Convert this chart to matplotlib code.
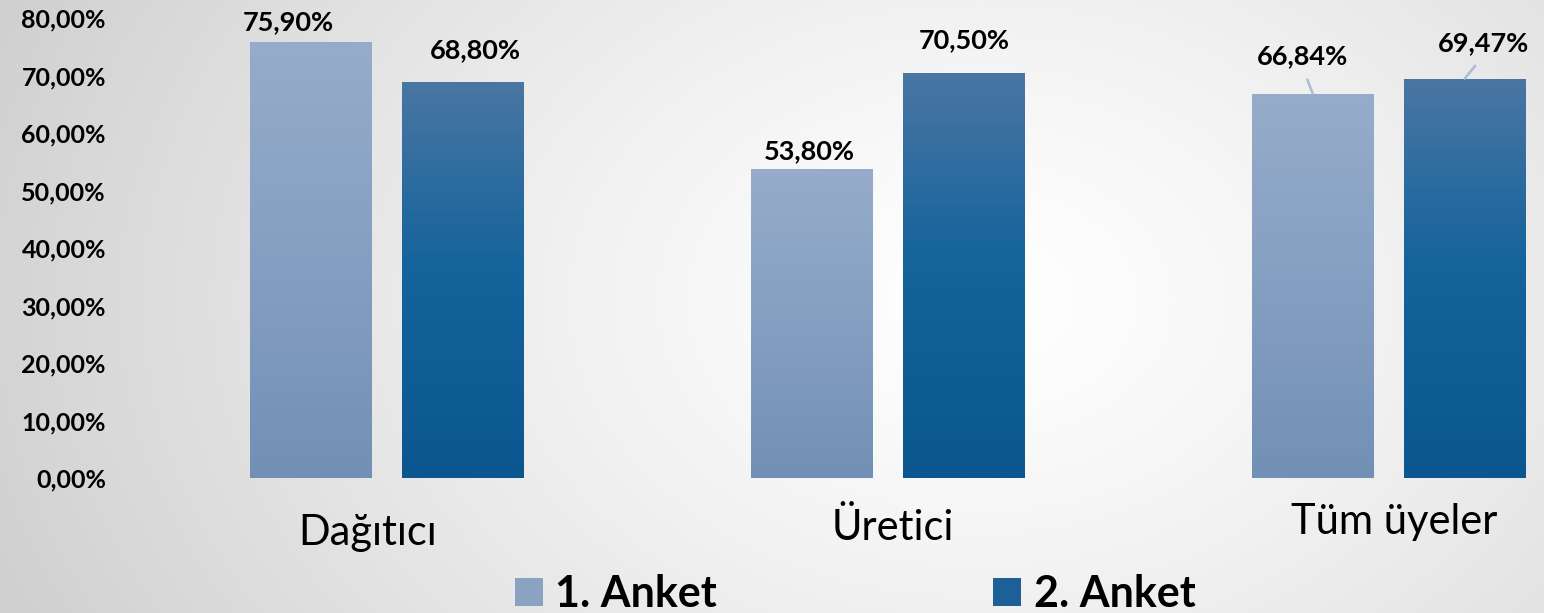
import numpy as np
import matplotlib
matplotlib.use("Agg")
import matplotlib.pyplot as plt
from matplotlib.patches import Patch
from matplotlib.ticker import FuncFormatter

# =========================
# DATA
# =========================
categories = ["Dağıtıcı", "Üretici", "Tüm üyeler"]
series_names = ["1. Anket", "2. Anket"]
anket1 = [75.90, 53.80, 66.84]
anket2 = [68.80, 70.50, 69.47]

# =========================
# STYLE
# =========================
plt.rcParams['font.family'] = ['Lato', 'DejaVu Sans']

# gradient stops: (position, rgb) top -> bottom
GRAD1 = [(0.0, "#96acca"), (0.5, "#859fc2"), (1.0, "#7290b5")]
GRAD2 = [(0.0, "#4a76a3"), (0.45, "#16649c"), (1.0, "#0b568f")]
LEG1 = "#8aa3c3"
LEG2 = "#1d5f97"
LEADER = "#aabdd4"

W, H = 1544, 613
fig = plt.figure(figsize=(W / 100, H / 100), dpi=100)

# radial background
bg = fig.add_axes([0, 0, 1, 1], zorder=-5)
yy, xx = np.mgrid[0:H, 0:W]
r = np.sqrt(((xx - 980) / 900.0) ** 2 + ((yy - 300) / 650.0) ** 2)
shade = 1.0 - 0.15 * np.clip(r, 0, 1.2) ** 1.3
bg.imshow(np.dstack([shade] * 3), aspect='auto', extent=[0, 1, 0, 1])
bg.axis('off')

ax = fig.add_axes([136.5 / W, 135 / H, 1 - 136.5 / W, 460 / H])
ax.patch.set_alpha(0)

x = np.arange(len(categories))
bw = 0.2435
off = 0.1517

bars1 = ax.bar(x - off, anket1, bw, color='none', zorder=2)
bars2 = ax.bar(x + off, anket2, bw, color='none', zorder=2)


def make_gradient(stops):
    t = np.linspace(0, 1, 256)
    pos = [s[0] for s in stops]
    cols = np.array([matplotlib.colors.to_rgb(s[1]) for s in stops])
    img = np.stack([np.interp(t, pos, cols[:, k]) for k in range(3)], axis=-1)
    return img[:, None, :]


def fill_gradient(bars, stops):
    img = make_gradient(stops)
    for b in bars:
        x0, y0 = b.get_x(), b.get_y()
        im = ax.imshow(img, aspect='auto', zorder=2,
                       extent=[x0, x0 + b.get_width(), y0, y0 + b.get_height()])
        im.set_clip_path(b)


fill_gradient(bars1, GRAD1)
fill_gradient(bars2, GRAD2)

ax.set_xlim(-0.5, 2.31)
ax.set_ylim(0, 80)
ax.set_yticks(np.arange(0, 81, 10))
ax.yaxis.set_major_formatter(FuncFormatter(lambda v, p: f"{v:.2f}%".replace('.', ',')))
ax.tick_params(axis='y', length=0, pad=22, labelsize=18)
for lb in ax.get_yticklabels():
    lb.set_fontweight('bold')
ax.set_xticks([])
for s in ax.spines.values():
    s.set_visible(False)

# category labels (pixel offsets from group centre)
cat_dx = [-19, 5, 5]
cat_base = [-11.6, -10.8, -9.7]
for i, c in enumerate(categories):
    ax.annotate(c, (x[i], cat_base[i]), xytext=(cat_dx[i], 0), textcoords='offset pixels',
                ha='center', va='baseline', fontsize=30, annotation_clip=False)

# data labels
lab_off1 = [(-23, 19), (-3, 18), (-10, 38)]
lab_off2 = [(12, 32), (0, 32), (19, 35)]
leader1 = [False, False, True]
leader2 = [False, False, True]


def label_bars(bars, vals, offs, leaders):
    for b, v, o, ld in zip(bars, vals, offs, leaders):
        kw = {}
        if ld:
            kw['arrowprops'] = dict(arrowstyle='-', color=LEADER, lw=1.8,
                                    shrinkA=7, shrinkB=0, relpos=(0.5, 0))
        ax.annotate(f"{v:.2f}%".replace('.', ','), (b.get_x() + b.get_width() / 2, v),
                    xytext=o, textcoords='offset pixels', ha='center', va='center',
                    fontsize=19.5, fontweight='bold', annotation_clip=False, **kw)


label_bars(bars1, anket1, lab_off1, leader1)
label_bars(bars2, anket2, lab_off2, leader2)

handles = [Patch(facecolor=LEG1, edgecolor='none'), Patch(facecolor=LEG2, edgecolor='none')]
fig.legend(handles, series_names, loc='center', bbox_to_anchor=(855 / W, 1 - 594 / H),
           ncol=2, frameon=False, prop=dict(size=31, weight='bold'),
           handlelength=0.65, handleheight=0.65, handletextpad=0.3, columnspacing=6.4,
           borderpad=0)

fig.savefig("out.png", dpi=100)
